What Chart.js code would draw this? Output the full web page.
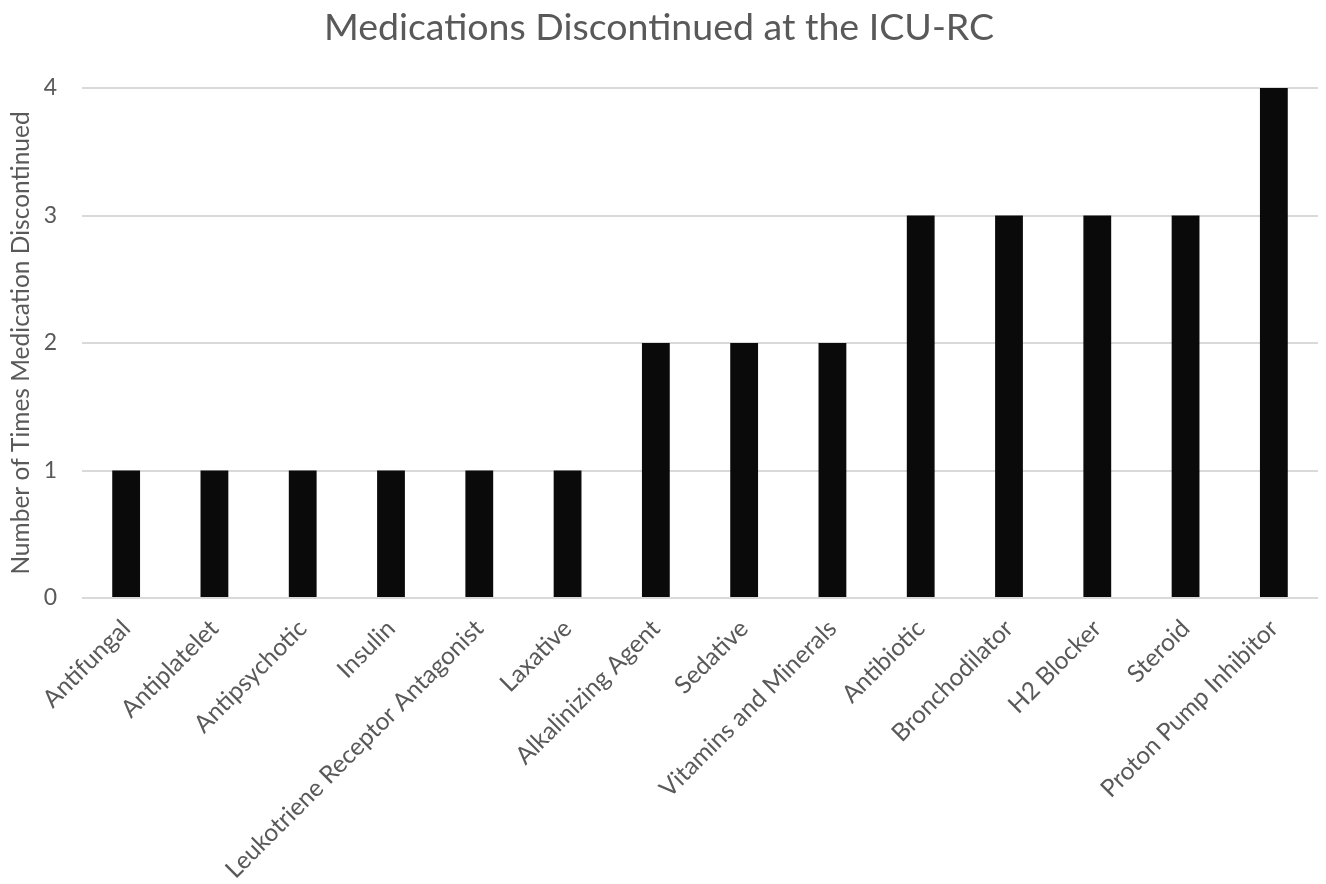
<!DOCTYPE html>
<html>
<head>
<meta charset="utf-8">
<script src="https://cdn.jsdelivr.net/npm/chart.js@4"></script>
<style>
html,body{margin:0;padding:0;background:#fff;}
#wrap{width:1326px;height:884px;position:relative;}
</style>
</head>
<body>
<div id="wrap"><canvas id="c" width="1326" height="884"></canvas></div>
<script>
const categories = ["Antifungal","Antiplatelet","Antipsychotic","Insulin","Leukotriene Receptor Antagonist","Laxative","Alkalinizing Agent","Sedative","Vitamins and Minerals","Antibiotic","Bronchodilator","H2 Blocker","Steroid","Proton Pump Inhibitor"];
const counts = [1,1,1,1,1,1,2,2,2,3,3,3,3,4];
const yTicks = [0,1,2,3,4];
const titleText = "Medications Discontinued at the ICU-RC";
const yTitle = "Number of Times Medication Discontinued";

const FONT = "Lato, 'Open Sans', sans-serif";
const GREY = "#595959";

new Chart(document.getElementById('c'), {
  type: 'bar',
  data: {
    labels: categories,
    datasets: [{
      data: counts,
      backgroundColor: '#0a0a0a',
      borderWidth: 0,
      barPercentage: 0.315,
      categoryPercentage: 1.0
    }]
  },
  options: {
    responsive: false,
    animation: false,
    devicePixelRatio: 1,
    layout: { padding: { left: 0, right: 8, top: 0, bottom: 0 } },
    plugins: {
      legend: { display: false },
      tooltip: { enabled: false },
      title: {
        display: true,
        text: titleText,
        color: GREY,
        font: { family: FONT, size: 37.5, weight: 'normal' },
        padding: { top: 5, bottom: 38 }
      }
    },
    scales: {
      x: {
        grid: { display: false, drawTicks: false },
        border: { display: false },
        ticks: {
          color: GREY,
          font: { family: FONT, size: 24.5 },
          minRotation: 45,
          maxRotation: 45,
          autoSkip: false,
          padding: 16
        },
        afterFit(scale) { scale.height = 286; }
      },
      y: {
        min: 0, max: 4,
        afterBuildTicks(scale) { scale.ticks = yTicks.map(v => ({ value: v })); },
        grid: { color: '#d9d9d9', lineWidth: 2, drawTicks: false },
        border: { display: false },
        ticks: {
          color: GREY,
          font: { family: FONT, size: 23 },
          padding: 25,
          stepSize: 1
        },
        title: {
          display: true,
          text: yTitle,
          color: GREY,
          font: { family: FONT, size: 24.5, weight: 'normal' },
          padding: { top: 6, bottom: 0 }
        },
        afterFit(scale) { scale.width = 82; }
      }
    }
  }
});
</script>
</body>
</html>
